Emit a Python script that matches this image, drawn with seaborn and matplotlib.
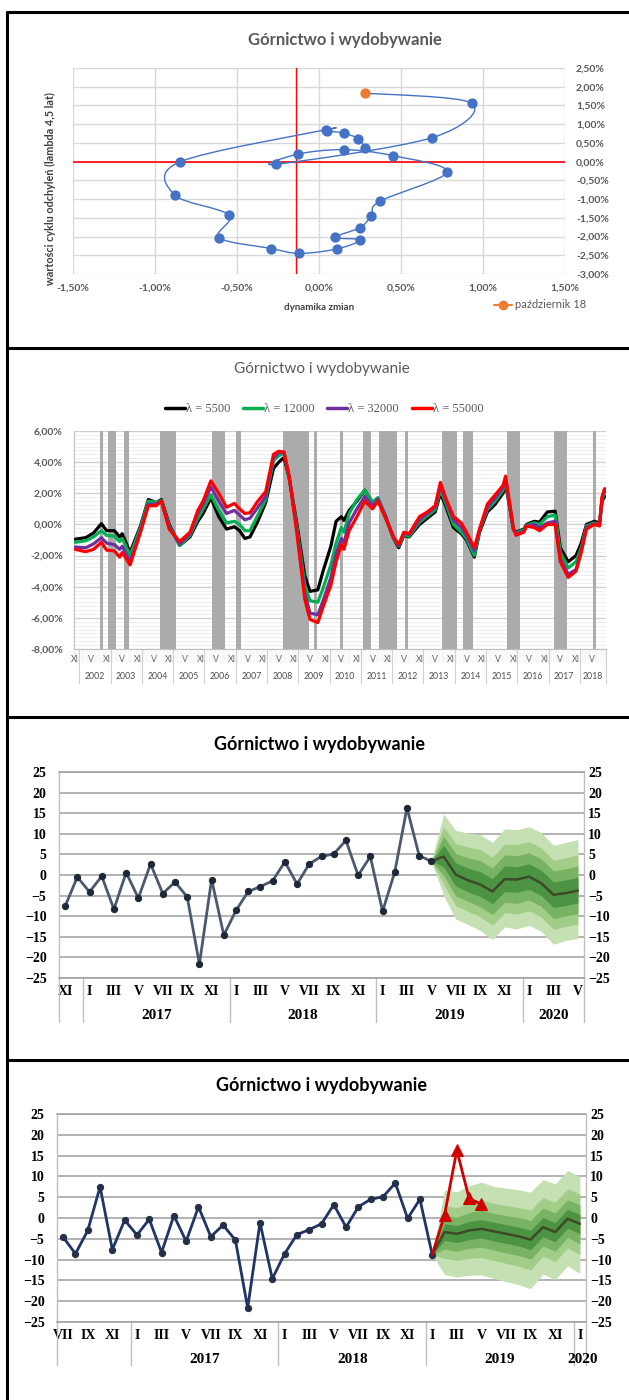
import numpy as np
import pandas as pd
import matplotlib
matplotlib.use('Agg')
import matplotlib.pyplot as plt
import matplotlib.transforms as mtransforms
import seaborn as sns
from matplotlib.path import Path
from matplotlib.patches import PathPatch
from matplotlib.lines import Line2D
from matplotlib.ticker import MultipleLocator, FuncFormatter

sns.set_theme(style='white')
plt.rcParams['font.family'] = ['Lato', 'DejaVu Sans']

TYTUL = 'Górnictwo i wydobywanie'
rzymskie = ['I', 'II', 'III', 'IV', 'V', 'VI', 'VII', 'VIII', 'IX', 'X', 'XI', 'XII']

# ---- wykres 1: zegar cyklu, X 2016 - X 2018 (w %)
cykl_dynamika = [0.28, 0.24, 0.15, 0.05, 0.04, -0.85, -0.88, -0.55, -0.61, -0.29, -0.12, 0.11, 0.25,
                 0.10, 0.25, 0.32, 0.37, 0.78, 0.45, 0.15, -0.13, -0.26, 0.69, 0.93, 0.28]
cykl_wartosc = [0.36, 0.61, 0.76, 0.82, 0.85, -0.01, -0.89, -1.42, -2.03, -2.32, -2.45, -2.33, -2.09,
                -2.02, -1.76, -1.44, -1.06, -0.28, 0.16, 0.32, 0.20, -0.07, 0.64, 1.56, 1.83]
srednia_dynamika = -0.14

# ---- wykres 2: cykl dla różnych lambda (miesiące od XI 2001)
miesiac = [0, 4, 7, 10, 12, 15, 17, 18, 21, 25, 28, 31, 33, 36, 40, 44, 47, 49, 52, 55, 58, 61, 63, 65,
           67, 70, 73, 76, 78, 80, 82, 85, 88, 90, 93, 95, 98, 100, 102, 103, 105, 108, 111, 114, 116,
           119, 122, 124, 126, 128, 132, 135, 138, 140, 142, 145, 148, 150, 153, 155, 158, 161, 164,
           165, 168, 169, 172, 173, 176, 178, 181, 184, 186, 189, 192, 194, 196, 199, 201, 202, 203]
lam_5500 = [-0.95, -0.85, -0.55, 0.05, -0.4, -0.4, -0.8, -0.6, -1.8, -0.1, 1.6, 1.4, 1.6, 0.0, -1.35,
            -0.8, 0.2, 0.7, 1.7, 0.5, -0.3, -0.15, -0.4, -0.9, -0.8, 0.2, 1.4, 3.6, 4.0, 4.3, 3.0, 0.0,
            -3.3, -4.3, -4.2, -3.0, -1.4, 0.2, 0.5, 0.25, 0.9, 1.5, 2.2, 1.4, 1.7, 0.5, -0.9, -1.5, -0.7,
            -0.8, 0.0, 0.4, 0.8, 2.0, 1.2, -0.2, -0.6, -1.0, -2.1, -0.5, 0.8, 1.3, 2.0, 2.6, -0.3, -0.5,
            -0.3, 0.0, 0.2, 0.15, 0.8, 0.85, -1.5, -2.4, -2.0, -1.2, 0.0, 0.2, 0.1, 1.5, 1.8]
lam_12000 = [-1.15, -1.05, -0.8, -0.4, -0.7, -0.75, -1.1, -0.9, -2.0, -0.2, 1.5, 1.4, 1.55, -0.1, -1.35,
             -0.7, 0.4, 1.0, 1.9, 0.9, 0.1, 0.2, 0.0, -0.4, -0.4, 0.6, 1.6, 4.1, 4.4, 4.6, 3.0, -0.2,
             -3.9, -4.9, -5.0, -4.1, -2.6, -1.2, -0.2, -0.5, 0.7, 1.6, 2.2, 1.4, 1.7, 0.5, -0.9, -1.4,
             -0.65, -0.75, 0.15, 0.55, 0.95, 2.2, 1.4, 0.0, -0.5, -0.9, -2.0, -0.4, 0.95, 1.5, 2.2, 2.8,
             -0.3, -0.55, -0.35, -0.05, 0.1, 0.0, 0.5, 0.6, -1.8, -2.8, -2.4, -1.5, -0.1, 0.1, 0.0, 1.6, 2.1]
lam_32000 = [-1.45, -1.5, -1.25, -0.85, -1.2, -1.3, -1.6, -1.4, -2.4, -0.4, 1.3, 1.3, 1.5, -0.2, -1.25,
             -0.6, 0.7, 1.3, 2.4, 1.5, 0.7, 0.9, 0.6, 0.3, 0.4, 1.1, 1.8, 4.3, 4.6, 4.65, 3.1, -0.4,
             -4.4, -5.7, -5.8, -4.9, -3.4, -1.9, -0.9, -1.2, 0.1, 1.0, 1.8, 1.2, 1.6, 0.5, -0.85, -1.35,
             -0.55, -0.65, 0.3, 0.7, 1.1, 2.45, 1.6, 0.3, -0.2, -0.7, -1.7, -0.35, 1.1, 1.7, 2.35, 2.95,
             -0.3, -0.6, -0.45, -0.1, 0.0, -0.2, 0.1, 0.2, -2.2, -3.2, -2.9, -1.7, -0.2, 0.05, -0.05, 1.7, 2.2]
lam_55000 = [-1.6, -1.75, -1.6, -1.15, -1.65, -1.7, -2.1, -1.8, -2.6, -0.5, 1.2, 1.2, 1.5, -0.3, -1.1,
             -0.5, 0.9, 1.5, 2.8, 2.0, 1.1, 1.35, 1.0, 0.7, 0.75, 1.5, 2.1, 4.5, 4.7, 4.65, 3.1, -0.6,
             -4.8, -6.1, -6.3, -5.3, -3.9, -2.4, -1.3, -1.6, -0.4, 0.5, 1.5, 1.0, 1.5, 0.4, -0.8, -1.3,
             -0.5, -0.6, 0.5, 0.8, 1.2, 2.7, 1.7, 0.5, 0.1, -0.5, -1.5, -0.3, 1.3, 1.9, 2.5, 3.1, -0.3,
             -0.7, -0.5, -0.1, -0.2, -0.4, 0.0, 0.0, -2.4, -3.4, -3.0, -1.8, -0.3, 0.0, -0.1, 1.8, 2.3]
pasy_start = [10, 13, 19, 33, 53, 62, 80, 92, 102, 111, 117, 127, 141, 149, 166, 184, 199]
pasy_koniec = [11, 16, 21, 39, 58, 64, 90, 93, 103, 114, 124, 128, 147, 153, 171, 189, 200]
lata_w2 = list(range(2002, 2019))

# ---- wykresy 3 i 4: produkcja r/r (VII 2016 - V 2019) i prognoza
produkcja = [-4.6, -8.6, -3.0, 7.5, -7.6, -0.5, -4.1, -0.3, -8.3, 0.6, -5.6, 2.7, -4.5, -1.7, -5.3,
             -21.6, -1.1, -14.6, -8.6, -4.0, -2.8, -1.4, 3.2, -2.2, 2.7, 4.5, 5.1, 8.4, -0.1, 4.5,
             -8.8, 0.7, 16.3, 4.7, 3.3]

# prognoza od V 2019 do V 2020
p3_srodek = [3.3, 4.5, 0.1, -1.3, -2.3, -4.0, -1.0, -1.1, -0.4, -2.0, -4.8, -4.4, -3.8]
p3_gora1 = [3.3, 14.8, 10.8, 10.2, 9.8, 7.9, 11.2, 11.0, 11.7, 10.3, 7.2, 7.9, 8.6]
p3_dol1 = [3.3, -5.0, -10.7, -12.0, -13.5, -15.7, -12.6, -13.1, -12.2, -13.7, -16.8, -15.9, -15.4]
p3_gora2 = [3.3, 11.7, 7.6, 6.8, 6.2, 4.3, 7.5, 7.4, 8.1, 6.6, 3.6, 4.2, 4.9]
p3_dol2 = [3.3, -2.2, -7.5, -8.8, -10.1, -12.2, -9.1, -9.5, -8.7, -10.2, -13.2, -12.5, -11.9]
p3_gora3 = [3.3, 9.4, 5.2, 4.2, 3.5, 1.7, 4.9, 4.7, 5.4, 3.9, 1.0, 1.5, 2.2]
p3_dol3 = [3.3, -0.1, -5.1, -6.4, -7.7, -9.6, -6.6, -6.9, -6.1, -7.6, -10.6, -9.9, -9.4]
p3_gora4 = [3.3, 7.2, 2.9, 1.7, 0.8, -0.9, 2.2, 2.0, 2.7, 1.2, -1.7, -1.2, -0.6]
p3_dol4 = [3.3, 2.0, -2.7, -4.1, -5.2, -7.0, -4.0, -4.2, -3.5, -5.0, -7.9, -7.4, -6.8]

# prognoza od I 2019 do I 2020
p4_srodek = [-8.8, -3.4, -3.8, -3.0, -2.6, -3.2, -3.8, -4.4, -5.2, -2.2, -3.4, -0.2, -1.4]
p4_gora1 = [-8.8, 6.7, 6.3, 7.8, 8.6, 7.6, 7.2, 6.8, 6.2, 9.2, 8.2, 11.4, 10.0]
p4_dol1 = [-8.8, -13.6, -14.2, -13.8, -13.7, -14.5, -15.3, -16.0, -17.0, -13.5, -14.8, -11.5, -13.3]
p4_gora2 = [-8.8, 2.9, 2.5, 3.7, 4.3, 3.5, 3.0, 2.5, 1.9, 4.9, 3.8, 7.0, 5.7]
p4_dol2 = [-8.8, -9.7, -10.2, -9.7, -9.5, -10.2, -10.9, -11.6, -12.5, -9.2, -10.5, -7.2, -8.8]
p4_gora3 = [-8.8, 0.6, 0.2, 1.3, 1.9, 1.1, 0.6, 0.1, -0.6, 2.4, 1.2, 4.4, 3.2]
p4_dol3 = [-8.8, -7.5, -8.0, -7.3, -7.0, -7.7, -8.4, -9.0, -9.9, -6.7, -8.0, -4.7, -6.2]
p4_gora4 = [-8.8, -1.4, -1.8, -0.8, -0.4, -1.0, -1.6, -2.2, -2.9, 0.1, -1.1, 2.1, 0.9]
p4_dol4 = [-8.8, -5.4, -5.9, -5.2, -4.8, -5.5, -6.1, -6.7, -7.6, -4.5, -5.7, -2.5, -3.8]

kolory_wachlarz = ['#C5E0B3', '#A2CD88', '#78B263', '#4C9444']

W, H = 629, 1400
fig = plt.figure(figsize=(W / 100, H / 100), dpi=100)


def rect(x0, y0, x1, y1):
    return [x0 / W, 1 - y1 / H, (x1 - x0) / W, (y1 - y0) / H]


def ramka(x0, y0, x1, y1):
    fig.add_artist(Line2D([x0 / W, x1 / W], [1 - y0 / H, 1 - y1 / H], transform=fig.transFigure,
                          color='black', lw=2.2))


ramka(7, 12, 629, 12)
ramka(7, 12, 7, 1400)
ramka(7, 348, 629, 348)
ramka(7, 717, 629, 717)
ramka(7, 1060, 629, 1060)

pct = FuncFormatter(lambda v, p: f'{v:.2f}%'.replace('.', ','))

# ================= wykres 1
ax1 = fig.add_axes(rect(73, 68, 565, 274))
pts = np.column_stack([cykl_dynamika, cykl_wartosc])
ext = np.vstack([pts[0], pts, pts[-1]])
verts = [pts[0]]
codes = [Path.MOVETO]
for i in range(len(pts) - 1):
    p0, p1, p2, p3 = ext[i], ext[i + 1], ext[i + 2], ext[i + 3]
    verts += [p1 + (p2 - p0) / 6, p2 - (p3 - p1) / 6, p2]
    codes += [Path.CURVE4] * 3
ax1.add_patch(PathPatch(Path(verts, codes), fc='none', ec='#4472C4', lw=1.0, zorder=3))
df1 = pd.DataFrame({'dynamika': cykl_dynamika, 'cykl': cykl_wartosc})
sns.scatterplot(data=df1.iloc[:-1], x='dynamika', y='cykl', color='#4472C4', s=55, linewidth=0,
                ax=ax1, zorder=4)
sns.scatterplot(data=df1.iloc[-1:], x='dynamika', y='cykl', color='#ED7D31', s=55, linewidth=0,
                ax=ax1, zorder=5)
ax1.axvline(srednia_dynamika, color='#FF0000', lw=1.0, zorder=2)
ax1.axhline(0, color='#FF2020', lw=1.4, zorder=2)
ax1.set_xlim(-1.5, 1.5)
ax1.set_ylim(-3, 2.5)
ax1.xaxis.set_major_locator(MultipleLocator(0.5))
ax1.yaxis.set_major_locator(MultipleLocator(0.5))
ax1.xaxis.set_major_formatter(pct)
ax1.yaxis.set_major_formatter(pct)
ax1.yaxis.tick_right()
ax1.grid(True, color='#D9D9D9', lw=1.0)
for s in ax1.spines.values():
    s.set_visible(False)
ax1.tick_params(axis='x', length=0, labelsize=7.5, labelcolor='#595959', pad=7)
ax1.tick_params(axis='y', length=0, labelsize=7.5, labelcolor='#595959', pad=8)
for t in ax1.get_xticklabels() + ax1.get_yticklabels():
    t.set_fontweight('bold')
ax1.set_xlabel('')
ax1.set_ylabel('')
fig.text(345 / W, 1 - 40 / H, TYTUL, ha='center', va='center', fontsize=12, fontweight='bold',
         color='#595959')
fig.text(50 / W, 1 - 189 / H, 'wartości cyklu odchyleń (lambda 4,5 lat)', rotation=90, ha='center',
         va='center', fontsize=7.8, fontweight='bold', color='#404040')
fig.text(319 / W, 1 - 307 / H, 'dynamika zmian', ha='center', va='center', fontsize=7,
         fontweight='bold', color='#404040')
fig.legend(handles=[Line2D([], [], color='#ED7D31', marker='o', markersize=6, lw=1.5)],
           labels=['październik 18'], loc='center left', bbox_to_anchor=(484 / W, 1 - 305 / H),
           frameon=False, fontsize=8, labelcolor='#595959', handlelength=1.6, handletextpad=0.3)

# ================= wykres 2
ax2 = fig.add_axes(rect(74, 431, 606, 649))
for a, b in zip(pasy_start, pasy_koniec):
    ax2.axvspan(a, b, color='#ABABAB', lw=0, zorder=1)
df2 = pd.DataFrame({'m': np.array(miesiac) + 0.5, 'λ = 5500': lam_5500, 'λ = 12000': lam_12000,
                    'λ = 32000': lam_32000, 'λ = 55000': lam_55000})
df2 = df2.melt(id_vars='m', var_name='seria', value_name='cykl')
paleta = {'λ = 5500': '#000000', 'λ = 12000': '#00B050', 'λ = 32000': '#7030A0', 'λ = 55000': '#FF0000'}
sns.lineplot(data=df2, x='m', y='cykl', hue='seria', palette=paleta, lw=2.3, ax=ax2, legend=False,
             zorder=3)
ax2.set_xlim(0, 204)
ax2.set_ylim(-8, 6)
ax2.yaxis.set_major_locator(MultipleLocator(2))
ax2.yaxis.set_minor_locator(MultipleLocator(0.25))
ax2.yaxis.set_major_formatter(pct)
ax2.grid(True, axis='y', which='major', color='#CFCFCF', lw=0.9, zorder=0)
ax2.grid(True, axis='y', which='minor', color='#EBEBEB', lw=0.6, zorder=0)
ax2.set_axisbelow(True)
for s in ['top', 'right']:
    ax2.spines[s].set_visible(False)
for s in ['left', 'bottom']:
    ax2.spines[s].set_color('#BFBFBF')
    ax2.spines[s].set_linewidth(0.8)
maj = np.arange(0, 204, 6) + 0.5
ax2.set_xticks(maj)
ax2.set_xticklabels([rzymskie[(10 + int(m)) % 12] for m in maj])
ax2.set_xticks(np.arange(0, 205), minor=True)
ax2.tick_params(axis='x', which='major', length=0, labelsize=6.3, labelcolor='#4D4D4D', pad=4)
ax2.tick_params(axis='x', which='minor', bottom=True, length=10, width=0.35, color='#E6E6E6')
ax2.tick_params(axis='y', which='both', length=0, labelsize=7.5, labelcolor='#595959', pad=8)
for t in ax2.get_yticklabels():
    t.set_fontweight('bold')
ax2.set_xlabel('')
ax2.set_ylabel('')
tr2 = mtransforms.blended_transform_factory(ax2.transData, ax2.transAxes)
for rok in lata_w2:
    a = 2 + 12 * (rok - 2002)
    b = min(a + 12, 204)
    ax2.plot([a, a], [0, -0.155], transform=tr2, color='#D0D0D0', lw=0.8, clip_on=False)
    ax2.text((a + b) / 2, -0.128, str(rok), transform=tr2, ha='center', va='center', fontsize=6.3,
             color='#4D4D4D')
ax2.plot([204, 204], [0, -0.155], transform=tr2, color='#D0D0D0', lw=0.8, clip_on=False)
uchwyty = [Line2D([], [], color=paleta[k], lw=2.5) for k in paleta]
ax2.legend(uchwyty, list(paleta), loc='lower center', bbox_to_anchor=(0.47, 1.02), ncol=4,
           frameon=False, handlelength=1.6, handletextpad=0.1, columnspacing=1.0,
           prop={'family': 'Liberation Serif', 'size': 9}, labelcolor='#595959')
fig.text(322 / W, 1 - 369 / H, TYTUL, ha='center', va='center', fontsize=11, color='#595959')


# ================= wykresy 3 i 4
def wachlarz(ax, start, srodek, gory, doly):
    x = np.arange(start, start + len(srodek))
    for g, d, k in zip(gory, doly, kolory_wachlarz):
        ax.fill_between(x, d, g, color=k, lw=0, zorder=2)
    ax.plot(x, srodek, color='#3E4A27', lw=1.8, zorder=3)


def os_kategorii(ax, start_mies, granice, lata, srodki_lat, y_dol):
    ax.set_xlim(-0.5, 42.5)
    ax.set_ylim(-25, 25)
    ax.yaxis.set_major_locator(MultipleLocator(5))
    ax.grid(True, axis='y', color='#9E9E9E', lw=1.1, zorder=0)
    ax.set_axisbelow(True)
    for s in ['left', 'right']:
        ax.spines[s].set_color('#BFBFBF')
        ax.spines[s].set_linewidth(1.0)
    for s in ['top', 'bottom']:
        ax.spines[s].set_color('#9E9E9E')
        ax.spines[s].set_linewidth(1.1)
    ticks = np.arange(0, 43, 2)
    ax.set_xticks(ticks)
    ax.set_xticklabels([rzymskie[(start_mies - 1 + int(c)) % 12] for c in ticks],
                       family='Liberation Serif', fontweight='bold', fontsize=10)
    ax.tick_params(axis='x', length=0, pad=5, labelcolor='black')
    ax.tick_params(axis='y', length=0, pad=9, labelsize=10, labelcolor='black')
    for t in ax.get_yticklabels():
        t.set_family('Liberation Serif')
        t.set_fontweight('bold')
    tr = mtransforms.blended_transform_factory(ax.transData, ax.transAxes)
    for g in granice:
        ax.plot([g, g], [0, y_dol], transform=tr, color='#BFBFBF', lw=1.0, clip_on=False)
    for rok, sx in zip(lata, srodki_lat):
        ax.text(sx, -0.18, str(rok), transform=tr, ha='center', va='center', fontsize=11,
                family='Liberation Serif', fontweight='bold', color='black')
    axr = ax.twinx()
    axr.set_ylim(-25, 25)
    axr.yaxis.set_major_locator(MultipleLocator(5))
    axr.grid(False)
    for s in axr.spines.values():
        s.set_visible(False)
    axr.tick_params(axis='y', length=0, pad=3, labelsize=10, labelcolor='black')
    for t in axr.get_yticklabels():
        t.set_family('Liberation Serif')
        t.set_fontweight('bold')
    ax.set_xlabel('')
    ax.set_ylabel('')


# wykres 3 (XI 2016 - V 2020)
ax3 = fig.add_axes(rect(59, 772, 584, 978))
wachlarz(ax3, 30, p3_srodek, [p3_gora1, p3_gora2, p3_gora3, p3_gora4],
         [p3_dol1, p3_dol2, p3_dol3, p3_dol4])
df3 = pd.DataFrame({'kat': np.arange(31), 'produkcja': produkcja[4:]})
sns.lineplot(data=df3, x='kat', y='produkcja', color='#4B596E', lw=2.0, marker='o', markersize=4.5,
             markerfacecolor='#1C2838', markeredgecolor='#1C2838', ax=ax3, zorder=4)
os_kategorii(ax3, 11, [-0.5, 1.5, 13.5, 25.5, 37.5, 42.5], [2017, 2018, 2019, 2020],
             [7.5, 19.5, 31.5, 40.0], -0.215)
fig.text(320 / W, 1 - 744 / H, TYTUL, ha='center', va='center', fontsize=13, fontweight='bold',
         color='black')

# wykres 4 (VII 2016 - I 2020)
ax4 = fig.add_axes(rect(57, 1114, 586, 1322))
wachlarz(ax4, 30, p4_srodek, [p4_gora1, p4_gora2, p4_gora3, p4_gora4],
         [p4_dol1, p4_dol2, p4_dol3, p4_dol4])
df4 = pd.DataFrame({'kat': np.arange(31), 'produkcja': produkcja[:31]})
sns.lineplot(data=df4, x='kat', y='produkcja', color='#1F3467', lw=2.0, marker='o', markersize=4.5,
             markerfacecolor='#253048', markeredgecolor='#253048', ax=ax4, zorder=4)
df4r = pd.DataFrame({'kat': np.arange(30, 35), 'produkcja': produkcja[30:]})
sns.lineplot(data=df4r, x='kat', y='produkcja', color='#D00000', lw=2.0, marker='^', markersize=8,
             markevery=[1, 2, 3, 4], markeredgecolor='#D00000', ax=ax4, zorder=5)
os_kategorii(ax4, 7, [-0.5, 5.5, 17.5, 29.5, 41.5, 42.5], [2017, 2018, 2019, 2020],
             [11.5, 23.5, 35.5, 42.2], -0.207)
fig.text(321 / W, 1 - 1086 / H, TYTUL, ha='center', va='center', fontsize=13, fontweight='bold',
         color='black')

fig.savefig('out.png', dpi=100)
